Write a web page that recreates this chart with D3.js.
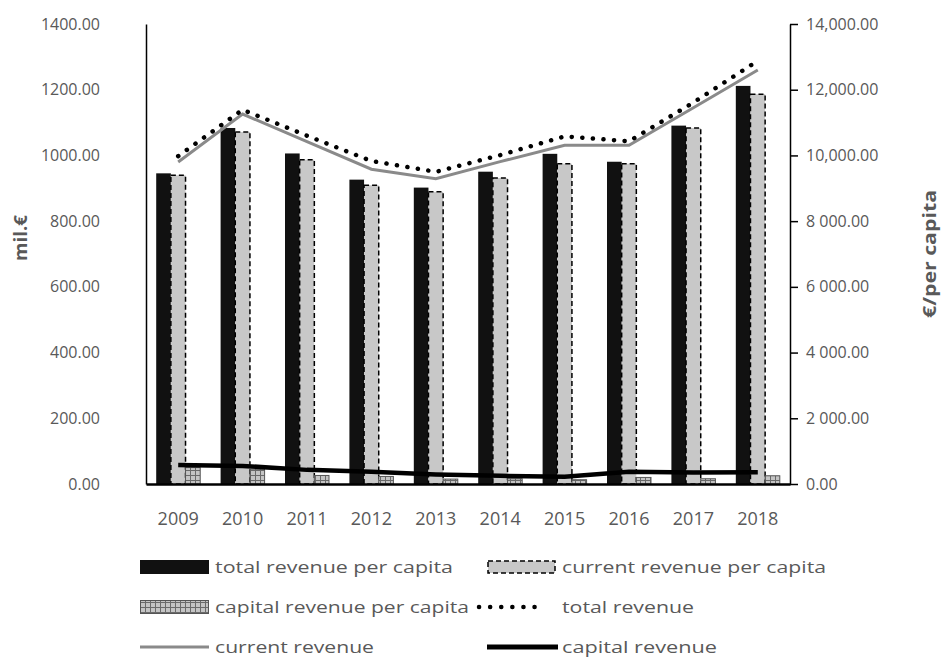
<!DOCTYPE html>
<html>
<head>
<meta charset="utf-8">
<script src="https://cdn.jsdelivr.net/npm/d3@7"></script>
<style>
  html, body { margin: 0; padding: 0; background: #ffffff; }
  svg { display: block; }
  text { font-family: "Open Sans", "Liberation Sans", sans-serif; fill: #595959; }
</style>
</head>
<body>
<svg id="chart" width="943" height="668"></svg>
<script>
// ---------- data ----------
const years = ["2009","2010","2011","2012","2013","2014","2015","2016","2017","2018"];
const totalRevenuePerCapita   = [9455, 10835, 10060, 9263, 9021, 9505, 10049, 9808, 10907, 12116];
const currentRevenuePerCapita = [9395, 10714, 9868, 9093, 8891, 9314, 9747, 9747, 10835, 11864];
const capitalRevenuePerCapita = [500, 450, 260, 230, 150, 160, 130, 200, 160, 250];
const totalRevenue   = [998, 1139, 1060, 983, 950, 1001, 1058, 1043, 1161, 1288];
const currentRevenue = [980, 1126, 1042, 958, 929, 981, 1031, 1031, 1145, 1260];
const capitalRevenue = [58, 55, 43, 37, 29, 25, 22, 37, 35, 36];

const leftTicks = [0, 200, 400, 600, 800, 1000, 1200, 1400];
const leftTickLabels = ["0.00","200.00","400.00","600.00","800.00","1000.00","1200.00","1400.00"];
const rightTicks = [0, 2000, 4000, 6000, 8000, 10000, 12000, 14000];
const rightTickLabels = ["0.00","2 000.00","4 000.00","6 000.00","8 000.00","10,000.00","12,000.00","14,000.00"];

const leftTitle = "mil.€";
const rightTitle = "€/per capita";

const legendItems = [
  {label: "total revenue per capita", type: "barTotal"},
  {label: "current revenue per capita", type: "barCurrent"},
  {label: "capital revenue per capita", type: "barCapital"},
  {label: "total revenue", type: "lineTotal"},
  {label: "current revenue", type: "lineCurrent"},
  {label: "capital revenue", type: "lineCapital"}
];

// ---------- layout ----------
const svg = d3.select("#chart");
const plot = {left: 146, right: 790, top: 24, bottom: 484};

const defs = svg.append("defs");
const pat = defs.append("pattern")
  .attr("id", "hatch").attr("patternUnits", "userSpaceOnUse")
  .attr("width", 5).attr("height", 5);
pat.append("rect").attr("width", 5).attr("height", 5).attr("fill", "#c4c4c4");
pat.append("path").attr("d", "M0,0.5H5M0.5,0V5").attr("stroke", "#6a6a6a").attr("stroke-width", 1);

const x0 = d3.scaleBand().domain(years).range([plot.left, plot.right]).paddingInner(0.317).paddingOuter(0.1585);
const x1 = d3.scaleBand().domain(["t","c","k"]).range([0, x0.bandwidth()]).padding(0);
const yL = d3.scaleLinear().domain([0, 1400]).range([plot.bottom, plot.top]);
const yR = d3.scaleLinear().domain([0, 14000]).range([plot.bottom, plot.top]);

// ---------- bars ----------
const g = svg.append("g");
const barSeries = [
  {key: "t", values: totalRevenuePerCapita, fill: "#111111", stroke: "none", dash: null},
  {key: "c", values: currentRevenuePerCapita, fill: "#c8c8c8", stroke: "#000", dash: "5,3"},
  {key: "k", values: capitalRevenuePerCapita, fill: "url(#hatch)", stroke: "#555", dash: null}
];
barSeries.forEach(s => {
  g.append("g").selectAll("rect").data(years).join("rect")
    .attr("x", d => x0(d) + x1(s.key))
    .attr("width", x1.bandwidth())
    .attr("y", (d, i) => yR(s.values[i]))
    .attr("height", (d, i) => plot.bottom - yR(s.values[i]))
    .attr("fill", s.fill)
    .attr("stroke", s.stroke)
    .attr("stroke-width", s.key === "c" ? 1.5 : 1)
    .attr("stroke-dasharray", s.dash);
});

// ---------- lines ----------
const cx = d => x0(d) + x0.bandwidth() / 2;
const line = vals => d3.line().x((d, i) => cx(years[i])).y((d, i) => yL(vals[i]))(vals);

g.append("path").attr("d", line(currentRevenue)).attr("fill", "none")
  .attr("stroke", "#8a8a8a").attr("stroke-width", 3);
g.append("path").attr("d", line(capitalRevenue)).attr("fill", "none")
  .attr("stroke", "#000").attr("stroke-width", 4.5);
g.append("path").attr("d", line(totalRevenue)).attr("fill", "none")
  .attr("stroke", "#000").attr("stroke-width", 4.5)
  .attr("stroke-linecap", "round").attr("stroke-dasharray", "0.1,10.5");

// ---------- axes ----------
const axL = d3.axisLeft(yL).tickValues(leftTicks).tickFormat((d, i) => leftTickLabels[i]).tickSize(0).tickPadding(46);
const gL = svg.append("g").attr("transform", `translate(${plot.left},0)`).call(axL);
gL.select(".domain").attr("stroke", "#000").attr("stroke-width", 1.5);
gL.selectAll("text").style("font-size", "16px").attr("fill", "#595959")
  .style("font-family", "'Open Sans', sans-serif");

const axR = d3.axisRight(yR).tickValues(rightTicks).tickFormat((d, i) => rightTickLabels[i]).tickSize(8).tickSizeOuter(0).tickPadding(8);
const gR = svg.append("g").attr("transform", `translate(${plot.right},0)`).call(axR);
gR.select(".domain").attr("stroke", "#000").attr("stroke-width", 1.5);
gR.selectAll("line").attr("stroke", "#000").attr("stroke-width", 1.5);
gR.selectAll("text").style("font-size", "16px").attr("fill", "#595959")
  .style("font-family", "'Open Sans', sans-serif");

const axB = d3.axisBottom(x0).tickSize(0).tickPadding(28);
const gB = svg.append("g").attr("transform", `translate(0,${plot.bottom})`).call(axB);
gB.select(".domain").attr("stroke", "#000").attr("stroke-width", 2.5);
gB.selectAll("text").style("font-size", "18px").attr("fill", "#595959")
  .style("font-family", "'Open Sans', sans-serif");

// axis titles
svg.append("text").attr("transform", "translate(27,238) rotate(-90)")
  .attr("text-anchor", "middle").style("font-size", "17px").style("font-weight", "bold")
  .attr("textLength", 46).attr("lengthAdjust", "spacingAndGlyphs")
  .text(leftTitle);
svg.append("text").attr("transform", "translate(936,254) rotate(-90)")
  .attr("text-anchor", "middle").style("font-size", "17px").style("font-weight", "bold")
  .attr("textLength", 128).attr("lengthAdjust", "spacingAndGlyphs")
  .text(rightTitle);

// ---------- legend ----------
const legCols = [140, 487];
const legRows = [567, 607, 647];
const legLens = [238, 264, 254, 132, 159, 155];
const lg = svg.append("g");
legendItems.forEach((it, i) => {
  const lx = legCols[i % 2], ly = legRows[Math.floor(i / 2)];
  const it_g = lg.append("g").attr("transform", `translate(${lx},${ly})`);
  if (it.type === "barTotal") {
    it_g.append("rect").attr("x", 0).attr("y", -7).attr("width", 69).attr("height", 14).attr("fill", "#111");
  } else if (it.type === "barCurrent") {
    it_g.append("rect").attr("x", 1).attr("y", -6).attr("width", 67).attr("height", 12)
      .attr("fill", "#c8c8c8").attr("stroke", "#000").attr("stroke-width", 1.5).attr("stroke-dasharray", "5,3");
  } else if (it.type === "barCapital") {
    it_g.append("rect").attr("x", 0.5).attr("y", -6.5).attr("width", 68).attr("height", 13)
      .attr("fill", "url(#hatch)").attr("stroke", "#555").attr("stroke-width", 1);
  } else if (it.type === "lineTotal") {
    it_g.append("line").attr("x1", -8).attr("x2", 58).attr("y1", 0).attr("y2", 0)
      .attr("stroke", "#000").attr("stroke-width", 4.5).attr("stroke-linecap", "round").attr("stroke-dasharray", "0.1,11");
  } else if (it.type === "lineCurrent") {
    it_g.append("line").attr("x1", 0).attr("x2", 69).attr("y1", 0).attr("y2", 0)
      .attr("stroke", "#8a8a8a").attr("stroke-width", 3);
  } else if (it.type === "lineCapital") {
    it_g.append("line").attr("x1", 0).attr("x2", 71).attr("y1", 0).attr("y2", 0)
      .attr("stroke", "#000").attr("stroke-width", 5);
  }
  it_g.append("text").attr("x", 75).attr("y", 0).attr("dy", "0.35em")
    .style("font-size", "17px")
    .attr("textLength", legLens[i]).attr("lengthAdjust", "spacingAndGlyphs")
    .text(it.label);
});
</script>
</body>
</html>
